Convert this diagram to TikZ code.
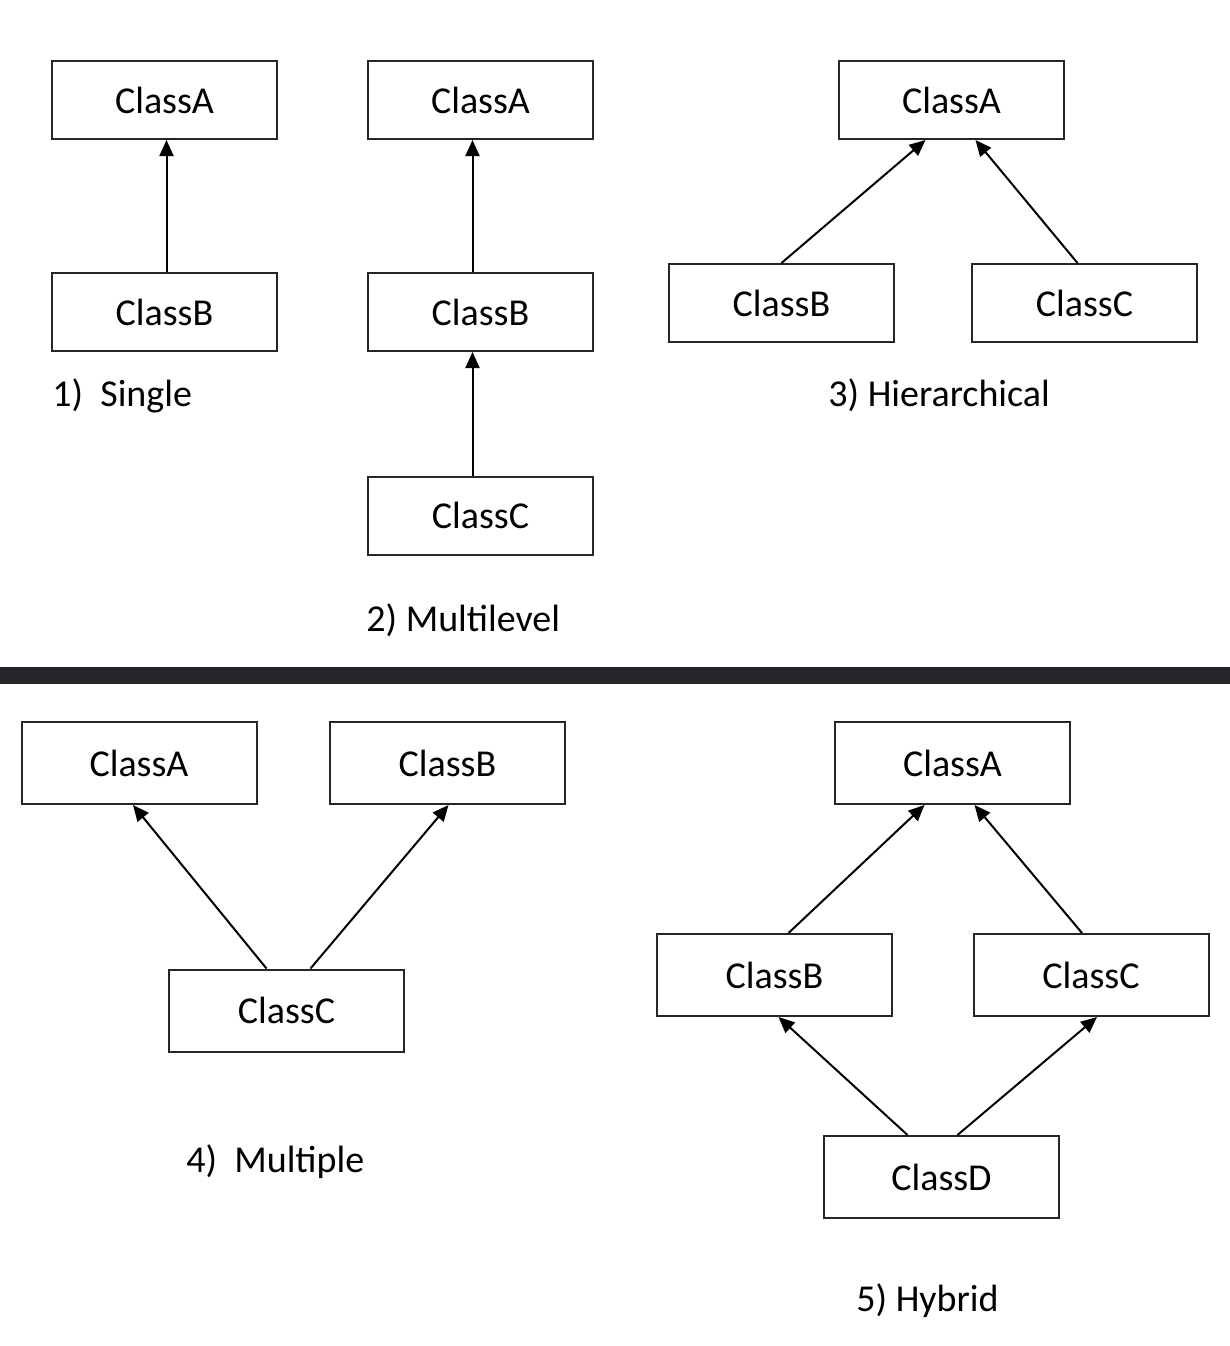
\documentclass[tikz,border=0pt]{standalone}
\usepackage{fontspec}
\setmainfont{Carlito}
\usetikzlibrary{arrows.meta,positioning}

\begin{document}
\begin{tikzpicture}[
    x=0.5pt, y=-0.5pt,
    font=\fontsize{19}{23}\selectfont,
    cls/.style={
        rectangle,
        draw=black!85,
        line width=1pt,
        fill=white,
        minimum width=112.5pt,
        minimum height=39pt,
        inner sep=0pt
    },
    wide/.style={cls, minimum width=117.5pt, minimum height=41pt},
    inh/.style={-{Triangle[length=8pt,width=7pt]}, line width=1pt, draw=black},
    caption/.style={anchor=base west, inner sep=0pt}
]
\useasboundingbox (0,0) rectangle (1230,1346);

% =========================================================
% 1) Single
% =========================================================
\node[cls] (sA) at (164.5,100) {ClassA};
\node[cls] (sB) at (164.5,312) {ClassB};
\draw[inh] ([xshift=1pt]sB.north) -- ([xshift=1pt]sA.south);
\node[caption] (sLbl) at (52,406) {1)\ \ Single};

% =========================================================
% 2) Multilevel
% =========================================================
\node[cls] (mA) at (480.5,100) {ClassA};
\node[cls] (mB) at (480.5,312) {ClassB};
\node[cls] (mC) at (480.5,515.5) {ClassC};
\draw[inh] ([xshift=-4pt]mB.north) -- ([xshift=-4pt]mA.south);
\draw[inh] ([xshift=-4pt]mC.north) -- ([xshift=-4pt]mB.south);
\node[caption] (mLbl) at (366,631) {2) Multilevel};

% =========================================================
% 3) Hierarchical
% =========================================================
\node[cls] (hA) at (951.5,100) {ClassA};
\node[cls] (hB) at (781.5,303) {ClassB};
\node[cls] (hC) at (1084.5,303) {ClassC};
\draw[inh] (hB.north) -- ([xshift=-13pt]hA.south);
\draw[inh] ([xshift=-3.5pt]hC.north) -- ([xshift=12pt]hA.south);
\node[caption] (hLbl) at (828,406) {3) Hierarchical};

% separator
\fill[fill={rgb,255:red,37;green,37;blue,42}] (0,667) rectangle (1230,684);

% =========================================================
% 4) Multiple
% =========================================================
\node[wide] (pA) at (139,763) {ClassA};
\node[wide] (pB) at (447.5,763) {ClassB};
\node[wide] (pC) at (286.5,1010.5) {ClassC};
\draw[inh] ([xshift=-10pt]pC.north) -- ([xshift=-3pt]pA.south);
\draw[inh] ([xshift=12pt]pC.north) -- ([xshift=0.5pt]pB.south);
\node[caption] (pLbl) at (186,1172) {4)\ \ Multiple};

% =========================================================
% 5) Hybrid
% =========================================================
\node[wide] (yA) at (952.5,763) {ClassA};
\node[wide] (yB) at (774.5,975) {ClassB};
\node[wide] (yC) at (1091,975) {ClassC};
\node[wide] (yD) at (941.5,1177) {ClassD};
\draw[inh] ([xshift=7pt]yB.north) -- ([xshift=-14pt]yA.south);
\draw[inh] ([xshift=-4.5pt]yC.north) -- ([xshift=11pt]yA.south);
\draw[inh] ([xshift=-17pt]yD.north) -- ([xshift=2pt]yB.south);
\draw[inh] ([xshift=8pt]yD.north) -- ([xshift=3pt]yC.south);
\node[caption] (yLbl) at (856,1311) {5) Hybrid};

\end{tikzpicture}
\end{document}
